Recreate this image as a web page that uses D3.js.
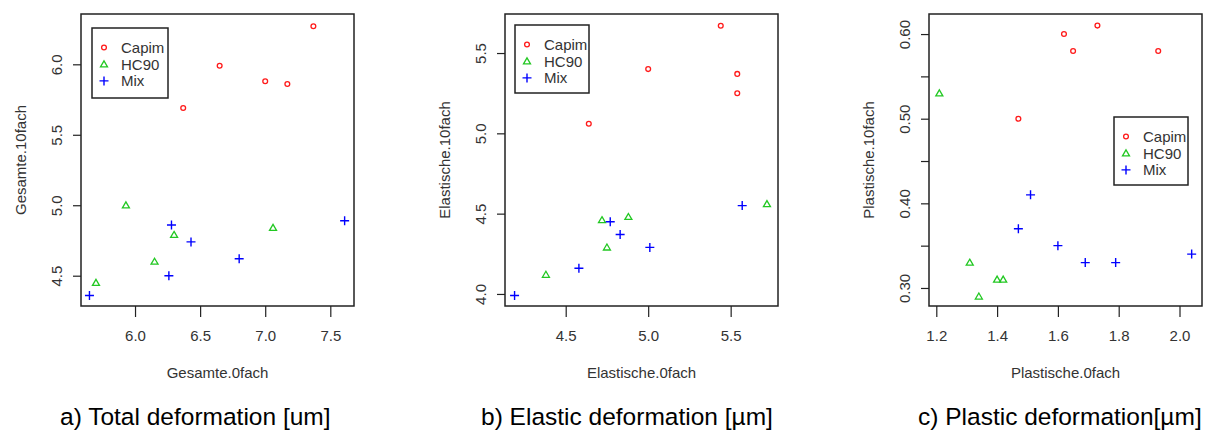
<!DOCTYPE html>
<html>
<head>
<meta charset="utf-8">
<script src="https://cdn.jsdelivr.net/npm/d3@7"></script>
<style>
  html, body { margin: 0; padding: 0; background: #fff; }
  svg text { font-family: "Liberation Sans", Arial, sans-serif; }
</style>
</head>
<body>
<svg id="chart" width="1211" height="432"></svg>
<script>
// ---------- data ----------
const seriesNames = ["Capim", "HC90", "Mix"];

// a) Total deformation (Gesamte)
const totalCapimX = [6.37, 6.65, 7.00, 7.17, 7.37];
const totalCapimY = [5.69, 5.99, 5.88, 5.86, 6.27];
const totalHC90X  = [5.70, 5.93, 6.15, 6.30, 7.06];
const totalHC90Y  = [4.45, 5.00, 4.60, 4.79, 4.84];
const totalMixX   = [5.65, 6.28, 6.26, 6.43, 6.80, 7.61];
const totalMixY   = [4.36, 4.86, 4.50, 4.74, 4.62, 4.89];

// b) Elastic deformation (Elastische)
const elasticCapimX = [4.64, 5.00, 5.44, 5.54, 5.54];
const elasticCapimY = [5.06, 5.40, 5.67, 5.37, 5.25];
const elasticHC90X  = [4.38, 4.72, 4.75, 4.88, 5.72];
const elasticHC90Y  = [4.12, 4.46, 4.29, 4.48, 4.56];
const elasticMixX   = [4.19, 4.58, 4.77, 4.83, 5.01, 5.57];
const elasticMixY   = [3.99, 4.16, 4.45, 4.37, 4.29, 4.55];

// c) Plastic deformation (Plastische)
const plasticCapimX = [1.47, 1.62, 1.65, 1.73, 1.93];
const plasticCapimY = [0.50, 0.60, 0.58, 0.61, 0.58];
const plasticHC90X  = [1.21, 1.31, 1.34, 1.40, 1.42];
const plasticHC90Y  = [0.53, 0.33, 0.29, 0.31, 0.31];
const plasticMixX   = [1.47, 1.51, 1.60, 1.69, 1.79, 2.04];
const plasticMixY   = [0.37, 0.41, 0.35, 0.33, 0.33, 0.34];

// tick values / labels
const totalXTicks   = [6.0, 6.5, 7.0, 7.5];
const totalYTicks   = [4.5, 5.0, 5.5, 6.0];
const elasticXTicks = [4.5, 5.0, 5.5];
const elasticYTicks = [4.0, 4.5, 5.0, 5.5];
const plasticXTicks = [1.2, 1.4, 1.6, 1.8, 2.0];
const plasticYTicks = [0.30, 0.35, 0.40, 0.45, 0.50, 0.55, 0.60];
const plasticYLabels = ["0.30", "", "0.40", "", "0.50", "", "0.60"];

const xTitles = ["Gesamte.0fach", "Elastische.0fach", "Plastische.0fach"];
const yTitles = ["Gesamte.10fach", "Elastische.10fach", "Plastische.10fach"];
const captions = ["a) Total deformation [um]", "b) Elastic deformation [µm]", "c) Plastic deformation[µm]"];

// ---------- layout ----------
const colors = { Capim: "#FF1A1A", HC90: "#22C822", Mix: "#0000FF" };
const textColor = "#333";
const plotTop = 14, plotBottom = 306;

const panels = [
  {
    left: 81, right: 354,
    xDomain: [5.585, 7.682], yDomain: [4.285, 6.357],
    xTicks: totalXTicks, xFmt: d3.format(".1f"),
    yTicks: totalYTicks, yLabels: totalYTicks.map(d3.format(".1f")),
    series: [[totalCapimX, totalCapimY], [totalHC90X, totalHC90Y], [totalMixX, totalMixY]],
    legend: { x: 92, y: 28, w: 76, h: 70 },
    captionX: 60
  },
  {
    left: 505, right: 778,
    xDomain: [4.132, 5.787], yDomain: [3.925, 5.743],
    xTicks: elasticXTicks, xFmt: d3.format(".1f"),
    yTicks: elasticYTicks, yLabels: elasticYTicks.map(d3.format(".1f")),
    series: [[elasticCapimX, elasticCapimY], [elasticHC90X, elasticHC90Y], [elasticMixX, elasticMixY]],
    legend: { x: 515, y: 25, w: 74, h: 68 },
    captionX: 481
  },
  {
    left: 929, right: 1202,
    xDomain: [1.176, 2.074], yDomain: [0.2787, 0.6237],
    xTicks: plasticXTicks, xFmt: d3.format(".1f"),
    yTicks: plasticYTicks, yLabels: plasticYLabels,
    series: [[plasticCapimX, plasticCapimY], [plasticHC90X, plasticHC90Y], [plasticMixX, plasticMixY]],
    legend: { x: 1114, y: 117, w: 74, h: 68 },
    captionX: 918
  }
];

const svg = d3.select("#chart");

function drawSymbol(g, name, x, y) {
  if (name === "Capim") {
    g.append("circle").attr("cx", x).attr("cy", y).attr("r", 2.4)
      .attr("fill", "none").attr("stroke", colors.Capim).attr("stroke-width", 1.3);
  } else if (name === "HC90") {
    g.append("path")
      .attr("d", `M${x},${y - 3.4}L${x + 3.5},${y + 2.6}L${x - 3.5},${y + 2.6}Z`)
      .attr("fill", "none").attr("stroke", colors.HC90).attr("stroke-width", 1.3);
  } else {
    g.append("path")
      .attr("d", `M${x - 4.5},${y}H${x + 4.5}M${x},${y - 4.5}V${y + 4.5}`)
      .attr("fill", "none").attr("stroke", colors.Mix).attr("stroke-width", 1.4);
  }
}

panels.forEach((p, i) => {
  const x = d3.scaleLinear().domain(p.xDomain).range([p.left, p.right]);
  const y = d3.scaleLinear().domain(p.yDomain).range([plotBottom, plotTop]);
  const g = svg.append("g");

  // x axis (ticks below box)
  const xAxis = d3.axisBottom(x).tickValues(p.xTicks).tickFormat(p.xFmt)
    .tickSize(11).tickPadding(13).tickSizeOuter(0);
  const gx = g.append("g").attr("transform", `translate(0,${plotBottom})`).call(xAxis);
  gx.select(".domain").remove();
  gx.selectAll("line").attr("stroke", "#222").attr("stroke-width", 1.2);
  gx.selectAll("text").attr("font-size", 15).attr("fill", textColor)
    .attr("font-family", "Liberation Sans, Arial, sans-serif");

  // y axis (rotated labels)
  const yAxis = d3.axisLeft(y).tickValues(p.yTicks)
    .tickFormat((d, j) => p.yLabels[j]).tickSize(8).tickSizeOuter(0);
  const gy = g.append("g").attr("transform", `translate(${p.left},0)`).call(yAxis);
  gy.select(".domain").remove();
  gy.selectAll("line").attr("stroke", "#222").attr("stroke-width", 1.2);
  gy.selectAll("text")
    .attr("x", null).attr("dy", null)
    .attr("transform", "translate(-25,0) rotate(-90)")
    .attr("text-anchor", "middle").attr("dominant-baseline", "central")
    .attr("font-size", 15).attr("fill", textColor)
    .attr("font-family", "Liberation Sans, Arial, sans-serif");

  // box
  g.append("rect").attr("x", p.left).attr("y", plotTop)
    .attr("width", p.right - p.left).attr("height", plotBottom - plotTop)
    .attr("fill", "none").attr("stroke", "#222").attr("stroke-width", 1.5);

  // axis titles
  g.append("text").attr("x", (p.left + p.right) / 2).attr("y", 378)
    .attr("text-anchor", "middle").attr("font-size", 15).attr("fill", textColor)
    .text(xTitles[i]);
  g.append("text")
    .attr("transform", `translate(${p.left - 61},${(plotTop + plotBottom) / 2}) rotate(-90)`)
    .attr("text-anchor", "middle").attr("dominant-baseline", "central")
    .attr("font-size", 15).attr("fill", textColor)
    .text(yTitles[i]);

  // points
  const pts = g.append("g");
  p.series.forEach((s, k) => {
    const name = seriesNames[k];
    s[0].forEach((xv, j) => drawSymbol(pts, name, x(xv), y(s[1][j])));
  });

  // legend
  const L = p.legend;
  const lg = g.append("g");
  lg.append("rect").attr("x", L.x).attr("y", L.y).attr("width", L.w).attr("height", L.h)
    .attr("fill", "#fff").attr("stroke", "#222").attr("stroke-width", 1.5);
  seriesNames.forEach((name, k) => {
    const cy = L.y + 19.5 + k * 16.7;
    drawSymbol(lg, name, L.x + 12, cy);
    lg.append("text").attr("x", L.x + 29).attr("y", cy)
      .attr("dominant-baseline", "central").attr("font-size", 15).attr("fill", textColor)
      .text(name);
  });

  // caption
  svg.append("text").attr("x", p.captionX).attr("y", 425)
    .attr("font-size", 24.5).attr("fill", "#000").text(captions[i]);
});
</script>
</body>
</html>
